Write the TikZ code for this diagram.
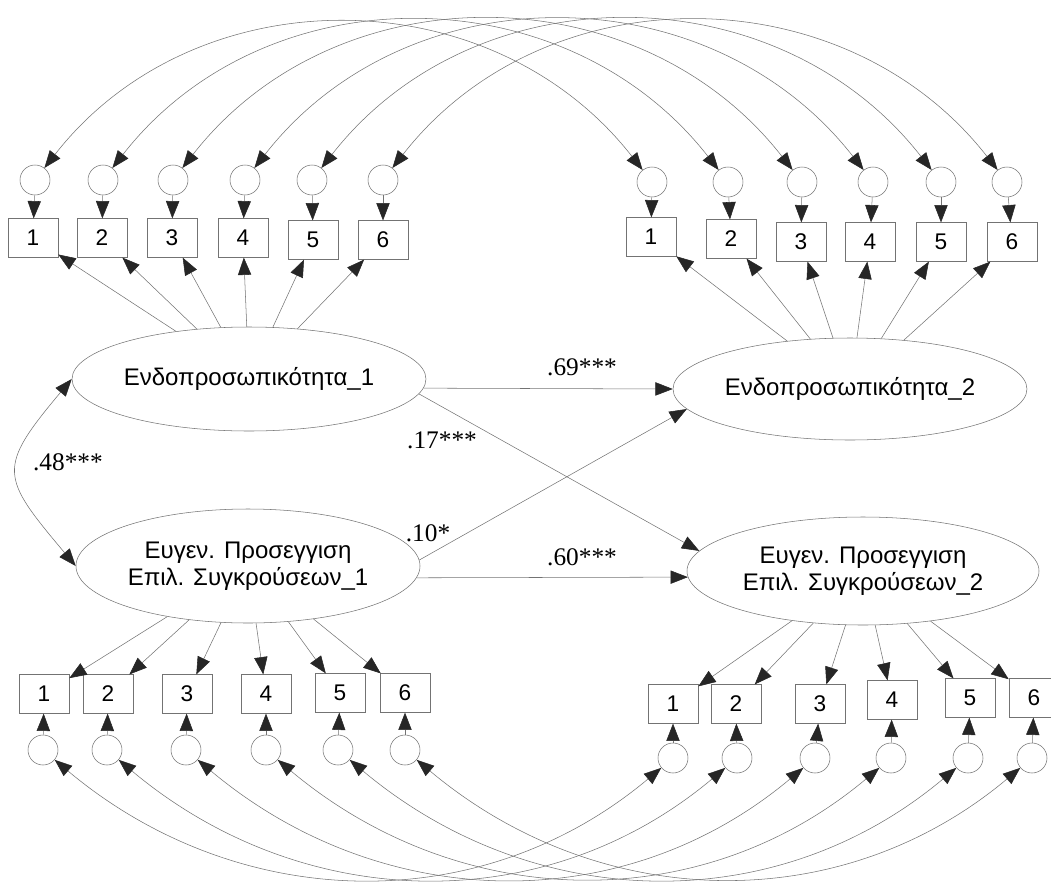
\documentclass[tikz,border=0pt]{standalone}
\usepackage{fontspec}
\setmainfont{Liberation Serif}
\setsansfont{Liberation Sans}
\usepackage{tikz}
\usetikzlibrary{shapes.geometric,arrows.meta}
\tikzstyle{latent} = [ellipse, draw=black!55, inner sep=0pt, align=center, font=\sffamily\fontsize{18}{20}\selectfont]
\tikzstyle{item} = [rectangle, draw=black!55, inner sep=0pt, minimum width=37.5pt, minimum height=29pt, font=\sffamily\fontsize{17}{18}\selectfont]
\tikzstyle{err} = [circle, draw=black!55, inner sep=0pt, minimum size=22.5pt]
\tikzstyle{coef} = [inner sep=0pt, font=\fontsize{19}{20}\selectfont]
\tikzstyle{line} = [draw=black!55, -{Triangle[length=13pt,width=10pt,color=black!85]}]
\tikzstyle{cov} = [draw=black!55, {Triangle[length=13pt,width=10pt,color=black!85]}-{Triangle[length=13pt,width=10pt,color=black!85]}]

\begin{document}
\begin{tikzpicture} [x=0.75pt, y=0.75pt]
\useasboundingbox (0,0) rectangle (1051,-886);
% Place nodes
\node [latent, minimum width=256.5pt, minimum height=78pt] (L1) at (249,-379) {Ενδοπροσωπικότητα\_1};
\node [latent, minimum width=258pt, minimum height=85.5pt] (L2) at (248,-566) {Ευγεν. Προσεγγιση\\Επιλ. Συγκρούσεων\_1};
\node [latent, minimum width=262.5pt, minimum height=76.5pt] (R1) at (850,-389) {Ενδοπροσωπικότητα\_2};
\node [latent, minimum width=264pt, minimum height=81pt] (R2) at (863,-571) {Ευγεν. Προσεγγιση\\Επιλ. Συγκρούσεων\_2};
% top left items
\node [err] (e1) at (35,-180) {};
\node [err] (e2) at (103,-180) {};
\node [err] (e3) at (173,-180) {};
\node [err] (e4) at (245,-180) {};
\node [err] (e5) at (312,-180) {};
\node [err] (e6) at (383,-180) {};
\node [item] (a1) at (33,-238) {1};
\node [item] (a2) at (102,-238) {2};
\node [item] (a3) at (172,-238) {3};
\node [item] (a4) at (243,-238) {4};
\node [item] (a5) at (313,-240) {5};
\node [item] (a6) at (383,-240) {6};
% top right items
\node [err] (f1) at (652,-182) {};
\node [err] (f2) at (728,-182) {};
\node [err] (f3) at (802,-182) {};
\node [err] (f4) at (873,-182) {};
\node [err] (f5) at (941,-182) {};
\node [err] (f6) at (1007,-182) {};
\node [item] (b1) at (651,-237) {1};
\node [item] (b2) at (731,-239) {2};
\node [item] (b3) at (801,-242) {3};
\node [item] (b4) at (870,-242) {4};
\node [item] (b5) at (941,-242) {5};
\node [item] (b6) at (1012,-242) {6};
% bottom left items
\node [item] (c1) at (44,-694) {1};
\node [item] (c2) at (108,-694) {2};
\node [item] (c3) at (187,-694) {3};
\node [item] (c4) at (266,-694) {4};
\node [item] (c5) at (340,-693) {5};
\node [item] (c6) at (405,-693) {6};
\node [err] (g1) at (43,-750) {};
\node [err] (g2) at (107,-750) {};
\node [err] (g3) at (186,-750) {};
\node [err] (g4) at (266,-750) {};
\node [err] (g5) at (338,-750) {};
\node [err] (g6) at (405,-750) {};
% bottom right items
\node [item] (d1) at (673,-704) {1};
\node [item] (d2) at (736,-704) {2};
\node [item] (d3) at (820,-704) {3};
\node [item] (d4) at (892,-700) {4};
\node [item] (d5) at (970,-698) {5};
\node [item] (d6) at (1034,-698) {6};
\node [err] (h1) at (673,-758) {};
\node [err] (h2) at (737,-758) {};
\node [err] (h3) at (815,-758) {};
\node [err] (h4) at (891,-758) {};
\node [err] (h5) at (968,-758) {};
\node [err] (h6) at (1032,-758) {};
% coefficients
\node [coef] (k69) at (582,-367) {.69***};
\node [coef] (k17) at (442,-440) {.17***};
\node [coef] (k10) at (428,-533) {.10*};
\node [coef] (k60) at (582,-557) {.60***};
\node [coef] (k48) at (68,-462) {.48***};
% Draw edges
\path [line] (L1) -- (a1);
\path [line] (L1) -- (a2);
\path [line] (L1) -- (a3);
\path [line] (L1) -- (a4);
\path [line] (L1) -- (a5);
\path [line] (L1) -- (a6);
\path [line] (e1) -- (a1);
\path [line] (e2) -- (a2);
\path [line] (e3) -- (a3);
\path [line] (e4) -- (a4);
\path [line] (e5) -- (a5);
\path [line] (e6) -- (a6);
\path [line] (R1) -- (b1);
\path [line] (R1) -- (b2);
\path [line] (R1) -- (b3);
\path [line] (R1) -- (b4);
\path [line] (R1) -- (b5);
\path [line] (R1) -- (b6);
\path [line] (f1) -- (b1);
\path [line] (f2) -- (b2);
\path [line] (f3) -- (b3);
\path [line] (f4) -- (b4);
\path [line] (f5) -- (b5);
\path [line] (f6) -- (b6);
\path [line] (L2) -- (c1);
\path [line] (L2) -- (c2);
\path [line] (L2) -- (c3);
\path [line] (L2) -- (c4);
\path [line] (L2) -- (c5);
\path [line] (L2) -- (c6);
\path [line] (g1) -- (c1);
\path [line] (g2) -- (c2);
\path [line] (g3) -- (c3);
\path [line] (g4) -- (c4);
\path [line] (g5) -- (c5);
\path [line] (g6) -- (c6);
\path [line] (R2) -- (d1);
\path [line] (R2) -- (d2);
\path [line] (R2) -- (d3);
\path [line] (R2) -- (d4);
\path [line] (R2) -- (d5);
\path [line] (R2) -- (d6);
\path [line] (h1) -- (d1);
\path [line] (h2) -- (d2);
\path [line] (h3) -- (d3);
\path [line] (h4) -- (d4);
\path [line] (h5) -- (d5);
\path [line] (h6) -- (d6);
% structural paths
\path [line] (L1.-3) -- (R1.180);
\path [line] (L1.-5) -- (R2.173);
\path [line] (L2.2) -- (R1.187);
\path [line] (L2.-4) -- (R2.182);
\path [cov] (L1.west) to[out=230, in=130, looseness=1.6] (L2.west);
% error covariances
\path [cov] (e1) to[out=52, in=128, looseness=1.05] (f1);
\path [cov] (e2) to[out=52, in=128, looseness=1.05] (f2);
\path [cov] (e3) to[out=52, in=128, looseness=1.05] (f3);
\path [cov] (e4) to[out=52, in=128, looseness=1.05] (f4);
\path [cov] (e5) to[out=52, in=128, looseness=1.05] (f5);
\path [cov] (e6) to[out=52, in=128, looseness=1.05] (f6);
\path [cov] (g1) to[out=-40, in=-140] (h1);
\path [cov] (g2) to[out=-40, in=-140] (h2);
\path [cov] (g3) to[out=-40, in=-140] (h3);
\path [cov] (g4) to[out=-40, in=-140] (h4);
\path [cov] (g5) to[out=-40, in=-140] (h5);
\path [cov] (g6) to[out=-40, in=-140] (h6);

\end{tikzpicture}
\end{document}
